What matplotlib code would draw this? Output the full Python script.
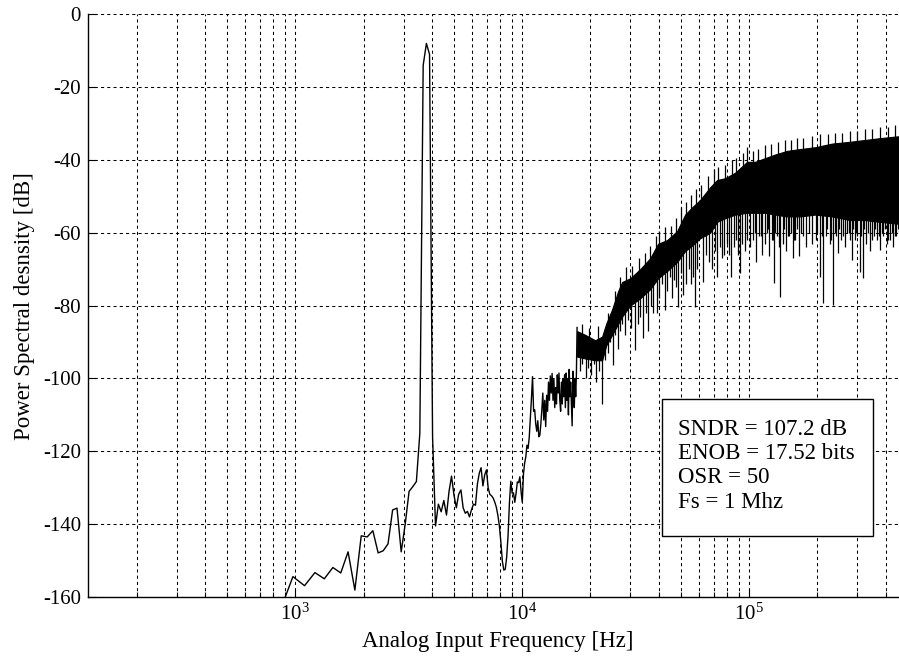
import numpy as np
import matplotlib
matplotlib.use('Agg')
import matplotlib.pyplot as plt
from matplotlib.patches import Rectangle
from matplotlib.ticker import FixedLocator, NullFormatter

plt.rcParams['font.family'] = ['Liberation Serif', 'DejaVu Serif']
plt.rcParams['mathtext.fontset'] = 'custom'
plt.rcParams['mathtext.rm'] = 'Liberation Serif'
plt.rcParams['mathtext.it'] = 'Liberation Serif:italic'
plt.rcParams['axes.unicode_minus'] = False

# ---------------- data ----------------
fs = 1e6
nfft = 8192

# FFT bins (k) of the low-frequency, individually visible part of the spectrum
bin_index = list(range(7, 144))
psd_low = [
    -164, -154.4, -156.9, -153.3, -155.0, -151.9, -153.4, -147.6, -158.1, -143.2,
    -143.5, -141.8, -147.9, -147.3, -145.4, -136.1, -135.6, -147.6, -140, -131,
    -129.7, -128.3, -115, -14, -8, -11, -116, -140.5, -134.5, -136.6,
    -133.5, -137.5, -131, -126.8, -132, -135.5, -131.8, -130.6, -135.5, -137,
    -136.5, -138, -136, -134.5, -134.8, -129, -126, -124.5, -129.5, -126.5,
    -125.1, -130, -131.8, -132.2, -132.8, -133.9, -135.3, -137.5, -140.5, -145,
    -150.2, -152.6, -152.4, -149, -143, -134, -128.2, -131.5, -131.4, -134,
    -131.5, -128.4, -128.6, -127, -131, -134, -126.2, -123.2, -121.5, -118.3,
    -119.2, -116.2, -110.8, -105.5, -99.5, -109, -108.6, -112.5, -114.5, -111.6,
    -116, -115.6, -112.5, -108.6, -104, -111.4, -106, -113.2, -104.6, -109,
    -101, -106, -99.3, -104, -98.6, -106, -100, -108, -102.5, -107,
    -99, -104, -98.5, -106, -109, -101, -107, -100, -105, -99,
    -108, -98.5, -106, -100, -110, -97.5, -105, -101, -107, -113,
    -98, -104, -108, -100, -105, -99, -86,
]

# dense high-frequency part: solid core of the black band
band_freq = [17470, 18940, 20970, 22510, 23440, 24920, 26480, 27580, 29910, 33100,
             36630, 39720, 43540, 48180, 52260, 56100, 60830, 67320, 72280, 78410,
             86760, 97990, 106300, 117600, 130200, 147100, 167700, 195300, 232100, 278600,
             324300, 377600, 453400, 500000]
band_top = [-87, -88, -89.5, -88.5, -85, -81, -76, -73.5, -72.5, -70,
            -67, -63, -62, -59.5, -55, -53, -51, -47.5, -45.5, -45,
            -43.5, -40.5, -40.5, -39.5, -38.5, -37.5, -37, -36.5, -35.5, -35,
            -34.5, -34, -33.5, -33.5]
band_bottom = [-94, -94.5, -95, -95, -91, -88, -85, -83, -80, -78,
               -75.5, -72.5, -70.5, -68, -65, -63.5, -61.5, -60, -57, -56,
               -55, -54.5, -54.5, -54.5, -55, -55.5, -55.5, -55, -55.5, -56.5,
               -56.5, -57, -57.5, -57.5]

# downward spikes below the band (FFT bin, level in dB)
spike_bin = [147, 151, 156, 160, 165, 169, 174, 179, 184,
             190, 195, 200, 205, 210, 216, 221, 226,
             233, 240, 247, 258, 265, 272, 280, 287, 294, 302, 310, 322, 329,
             340, 349, 357, 366, 375, 384, 391, 399, 410, 420, 432, 444, 455, 464, 474, 485,
             514, 530, 545, 563, 578, 592, 610, 620, 636, 655, 668, 683, 700, 715, 730, 748,
             765, 785, 805, 826, 850, 880, 905, 935, 960, 980, 1004, 1030, 1056, 1090, 1122,
             1150, 1192, 1230, 1280, 1310, 1361, 1410, 1460, 1500, 1552, 1610, 1683, 1735,
             1780, 1860, 1920, 1980, 2020, 2090, 2170, 2250, 2329, 2400, 2460, 2526, 2604,
             2680, 2796, 2900, 3000, 3094, 3200, 3321, 3420, 3529, 3650, 3760,
             870, 920, 995, 1045, 1070, 1110, 1170, 1210, 1255, 1295, 1335, 1390,
             1640, 1710, 1810, 1890, 1950, 2050, 2130, 2210, 2290, 2360, 2430, 2560,
             2640, 2740, 2850, 2950, 3050, 3150, 3260, 3370, 3480, 3590, 3700, 3820]
spike_db = [-98, -96, -100, -97, -99, -96, -101, -98, -107,
            -95, -93, -90, -96.3, -88, -92, -87, -85,
            -88, -84, -86, -92.2, -85, -83, -89, -82, -87, -80, -82, -82, -78,
            -74, -81.2, -76, -72, -78, -73, -75, -80.3, -71, -77, -74, -70, -74, -72, -80.3, -70,
            -73.4, -66, -68, -70, -65, -72, -64, -67, -66, -63, -66, -72, -64, -62, -66, -71,
            -63, -65, -62, -64, -62, -68, -61, -66, -63, -60, -66.5, -62, -73.9, -61, -77.5,
            -63, -65, -61, -67, -62, -66.5, -61, -64, -60, -63, -62, -72, -79.4,
            -61, -63, -79.8, -61, -65.6, -62, -64, -60, -67.5, -62, -61, -70.7, -72.5,
            -63, -65, -61, -62, -64.7, -61, -63, -62, -64, -61, -60,
            -60, -61, -59, -62, -60, -64, -59, -61, -60, -62, -59, -60,
            -60, -61, -59, -62, -60, -59, -61, -60, -62, -59, -60, -61,
            -59, -60, -62, -59, -61, -60, -59, -62, -60, -61, -59, -60]

# upward spikes above the band (FFT bin, level in dB)
up_bin = [150, 162, 176, 195, 210, 222, 236, 250, 268, 285, 300, 318, 330,
          350, 370, 392, 412, 430, 455, 478, 505, 540, 575, 600, 640, 690, 720, 770, 800,
          850, 900, 960, 1020, 1100, 1180, 1250, 1330, 1420, 1550, 1680, 1820, 1950,
          2100, 2280, 2450, 2650, 2850, 3100, 3350, 3600]
up_db = [-85, -86, -85.5, -82, -76, -72, -69.5, -69, -67, -65.5, -63.5, -61, -59.5,
         -58.5, -58, -56, -53, -51.5, -49.5, -48, -47, -44.5, -42.5, -42, -41.5, -40, -39.5, -38, -36.3,
         -37.5, -37, -36, -35.5, -35, -34.5, -34.5, -34, -34, -33.5, -33, -33, -32.5,
         -32.5, -32, -32, -31.5, -31.5, -31, -31, -30.5]

info_lines = ['SNDR = 107.2 dB', 'ENOB = 17.52 bits', 'OSR = 50', 'Fs = 1 Mhz']

# ---------------- figure ----------------
fig = plt.figure(figsize=(8.99, 6.6), dpi=100)
ax = fig.add_axes([88 / 899, 63 / 660, 819.7 / 899, 582.7 / 660])
ax.set_xscale('log')

df = fs / nfft
f_low = np.array(bin_index) * df
ax.plot(f_low, psd_low, color='k', lw=1.0, zorder=3)
ax.fill_between(band_freq, band_bottom, band_top, color='k', lw=0.8, zorder=3)

lb = np.log10(band_freq)
f_sp = np.array(spike_bin) * df
sp_base = np.interp(np.log10(f_sp), lb, band_bottom) + 1.5
ax.vlines(f_sp, spike_db, sp_base, color='k', lw=0.9, zorder=3)
f_up = np.array(up_bin) * df
up_base = np.interp(np.log10(f_up), lb, band_top) - 1.5
ax.vlines(f_up, up_base, up_db, color='k', lw=0.9, zorder=3)

ax.set_xlim(df, fs / 2)
ax.set_ylim(-160, 0)

major_x = [1e3, 1e4, 1e5]
minor_x = [m * 10 ** e for e in range(2, 6) for m in range(2, 10) if m * 10 ** e <= fs / 2]
ax.xaxis.set_major_locator(FixedLocator(major_x))
ax.xaxis.set_minor_locator(FixedLocator(minor_x))
ax.xaxis.set_minor_formatter(NullFormatter())
ax.set_xticklabels([r'$\mathregular{10^{3}}$', r'$\mathregular{10^{4}}$', r'$\mathregular{10^{5}}$'])
ax.set_yticks(list(range(-160, 1, 20)))

grid_kw = dict(color='k', lw=0.75, ls=(0, (3, 3)))
ax.grid(True, which='both', axis='x', **grid_kw)
ax.grid(True, which='major', axis='y', **grid_kw)
ax.set_axisbelow(True)

for s in ['top', 'right']:
    ax.spines[s].set_visible(False)
for s in ['left', 'bottom']:
    ax.spines[s].set_linewidth(1.0)

ax.tick_params(which='major', direction='in', length=6, width=0.8, labelsize=15, pad=5)
ax.tick_params(which='minor', direction='in', length=3.5, width=0.8)

ax.set_xlabel('Analog Input Frequency [Hz]', fontsize=16.5, labelpad=4)
ax.set_ylabel('Power Spectral desnsity [dB]', fontsize=16.5, labelpad=6)

rect = Rectangle((0.700, 0.105), 0.2577, 0.235, transform=ax.transAxes,
                 facecolor='white', edgecolor='k', lw=1.0, zorder=5)
ax.add_patch(rect)
for t, yb in zip(info_lines, [0.278, 0.2368, 0.195, 0.152]):
    ax.text(0.7194, yb, t, transform=ax.transAxes, fontsize=16.5,
            va='baseline', ha='left', zorder=6)

fig.savefig('out.png', dpi=100)
